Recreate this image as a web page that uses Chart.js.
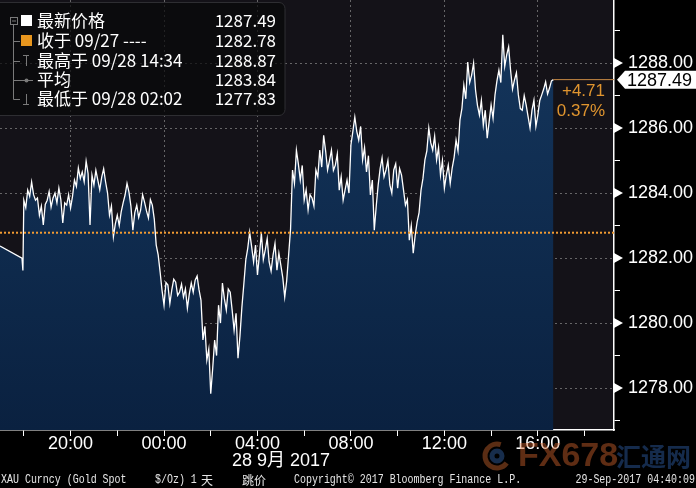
<!DOCTYPE html>
<html>
<head>
<meta charset="utf-8">
<script src="https://cdn.jsdelivr.net/npm/chart.js@4.4.1/dist/chart.umd.min.js"></script>
<style>
  html, body { margin: 0; padding: 0; background: #000; }
</style>
</head>
<body>
<canvas id="chart" width="696" height="488"></canvas>
<script>
// hours are counted from midnight 28 Sep (negative = 27 Sep)
const gapHours = [-7.02, -6.08, -6.04];
const gapPrices = [1282.37, 1282.00, 1281.62];

// quotes from 18:00 (27 Sep), one every 5 minutes
const firstHour = -6;
const stepMinutes = 5;
const prices = [
  1283.78, 1283.55, 1284.09, 1283.90, 1284.34, 1283.95, 1283.78, 1283.85, 1283.32, 1283.60,
  1283.02, 1283.65, 1283.78, 1284.05, 1283.57, 1283.85, 1284.00, 1283.70, 1284.15, 1283.80,
  1283.08, 1283.70, 1283.63, 1283.95, 1283.54, 1283.90, 1284.40, 1284.20, 1284.77, 1284.45,
  1284.65, 1284.35, 1284.98, 1284.60, 1283.02, 1284.55, 1284.25, 1284.70, 1284.40, 1284.10,
  1284.49, 1284.75, 1284.34, 1284.00, 1283.32, 1283.60, 1282.65, 1283.05, 1283.32, 1283.00,
  1283.42, 1283.70, 1283.94, 1284.30, 1284.03, 1283.60, 1282.86, 1283.40, 1283.63, 1283.25,
  1283.48, 1283.95, 1283.72, 1283.45, 1283.23, 1283.80, 1283.63, 1283.20, 1282.40, 1282.10,
  1281.57, 1281.00, 1280.55, 1281.25, 1281.17, 1280.60, 1281.02, 1281.35, 1281.26, 1280.85,
  1280.95, 1281.20, 1280.80, 1281.05, 1280.46, 1280.90, 1281.23, 1280.95, 1281.32, 1281.45,
  1281.02, 1280.70, 1279.48, 1279.90, 1278.86, 1279.20, 1277.83, 1278.60, 1279.48, 1279.00,
  1280.55, 1280.00, 1281.23, 1280.75, 1280.40, 1281.05, 1280.95, 1280.40, 1279.78, 1280.30,
  1278.92, 1279.60, 1280.49, 1281.20, 1281.94, 1282.30, 1282.80, 1282.35, 1281.88, 1282.40,
  1281.48, 1282.10, 1282.77, 1281.95, 1282.25, 1282.60, 1281.88, 1281.60, 1282.09, 1282.45,
  1281.63, 1282.15, 1281.78, 1281.40, 1280.80, 1281.30, 1282.09, 1282.90, 1284.71, 1284.30,
  1285.32, 1284.90, 1284.40, 1284.85, 1283.78, 1284.10, 1283.48, 1283.95, 1283.85, 1283.60,
  1284.71, 1284.50, 1285.32, 1284.80, 1285.78, 1285.30, 1284.71, 1285.00, 1285.32, 1284.70,
  1284.86, 1285.20, 1284.09, 1284.50, 1283.78, 1284.10, 1284.40, 1284.00, 1285.48, 1285.90,
  1286.34, 1285.90, 1285.63, 1286.05, 1285.02, 1285.40, 1284.65, 1285.15, 1283.94, 1284.40,
  1282.86, 1283.60, 1284.25, 1284.75, 1285.08, 1284.50, 1284.71, 1285.00, 1284.25, 1284.00,
  1284.71, 1284.90, 1284.15, 1284.75, 1284.55, 1284.10, 1283.63, 1283.80, 1282.55, 1283.00,
  1282.15, 1282.70, 1283.11, 1283.40, 1284.09, 1284.45, 1285.02, 1285.30, 1286.00, 1285.55,
  1285.32, 1285.75, 1285.02, 1285.40, 1284.55, 1285.00, 1284.15, 1284.55, 1284.86, 1284.30,
  1284.77, 1285.10, 1285.63, 1285.30, 1286.25, 1286.60, 1287.32, 1286.90, 1288.03, 1287.40,
  1287.63, 1288.00, 1287.17, 1286.70, 1286.40, 1286.85, 1286.09, 1286.55, 1285.69, 1286.20,
  1286.71, 1286.30, 1287.02, 1287.45, 1287.78, 1287.40, 1288.87, 1287.90, 1288.25, 1288.50,
  1287.78, 1287.20, 1287.48, 1287.70, 1287.02, 1286.60, 1286.55, 1287.00, 1286.71, 1286.35,
  1286.00, 1286.55, 1286.86, 1286.05, 1286.40, 1286.85, 1287.02, 1287.20, 1287.42, 1287.05,
  1287.23, 1287.45, 1287.49
];

const prevClose = 1282.78;
const xMin = -7.02, xMax = 19.26;
const yMin = 1276.71, yMax = 1289.94;

const legendLabels = ['最新价格', '收于 09/27 ----', '最高于 09/28 14:34', '平均', '最低于 09/28 02:02'];
const legendValues = ['1287.49', '1282.78', '1288.87', '1283.84', '1277.83'];
const dateLabel = '28 9月 2017';

const series = gapHours.map((h, i) => ({ x: h, y: gapPrices[i] }))
  .concat(prices.map((p, i) => ({ x: firstHour + i * stepMinutes / 60, y: p })));
const last = series[series.length - 1];

const FONT = '"Liberation Sans", Arial, sans-serif';
const CJK = '"Noto Sans CJK SC", sans-serif';
Chart.defaults.font.family = FONT;

function hourLabel(v) {
  const h = ((v % 24) + 24) % 24;
  return String(h).padStart(2, '0') + ':00';
}

// backgrounds + all the bloomberg furniture
const decor = {
  id: 'decor',
  beforeDraw(chart) {
    const { ctx, chartArea: a } = chart;
    ctx.save();
    ctx.fillStyle = '#000';
    ctx.fillRect(0, 0, chart.width, chart.height);
    ctx.fillStyle = '#141218';
    ctx.fillRect(a.left, a.top, a.right - a.left, a.bottom - a.top);
    ctx.restore();
  },
  afterDraw(chart) {
    const { ctx, chartArea: a } = chart;
    const ys = chart.scales.y;
    ctx.save();

    // triangles on major y ticks
    ctx.fillStyle = '#fff';
    ys.ticks.forEach(t => {
      if (Math.round(t.value) % 2 !== 0) return;
      const py = ys.getPixelForValue(t.value);
      ctx.beginPath();
      ctx.moveTo(a.right, py - 5);
      ctx.lineTo(a.right + 9, py);
      ctx.lineTo(a.right, py + 5);
      ctx.closePath();
      ctx.fill();
    });

    // last price tag
    const py = ys.getPixelForValue(last.y);
    ctx.beginPath();
    ctx.moveTo(a.right + 3, py);
    ctx.lineTo(a.right + 11, py - 9);
    ctx.lineTo(chart.width, py - 9);
    ctx.lineTo(chart.width, py + 9);
    ctx.lineTo(a.right + 11, py + 9);
    ctx.closePath();
    ctx.fill();
    ctx.fillStyle = '#000';
    ctx.font = '18px ' + FONT;
    ctx.textBaseline = 'middle';
    ctx.textAlign = 'left';
    ctx.fillText(last.y.toFixed(2), a.right + 13, py + 1);

    // change vs previous close
    const chg = last.y - prevClose;
    ctx.fillStyle = '#e0952f';
    ctx.font = '17px ' + FONT;
    ctx.textAlign = 'right';
    ctx.fillText('+' + chg.toFixed(2), a.right - 9, py + 12);
    ctx.fillText((chg / prevClose * 100).toFixed(2) + '%', a.right - 9, py + 32);

    // date under the time axis
    ctx.fillStyle = '#fff';
    ctx.font = '18px ' + FONT + ', ' + CJK;
    ctx.textAlign = 'center';
    ctx.fillText(dateLabel, 281, 461);

    // watermark
    ctx.globalAlpha = 0.45;
    ctx.lineWidth = 5;
    ctx.strokeStyle = '#c8642c';
    ctx.beginPath();
    ctx.arc(497, 456, 12, Math.PI * 0.2, Math.PI * 1.6);
    ctx.stroke();
    ctx.strokeStyle = '#3463a8';
    ctx.beginPath();
    ctx.arc(497, 456, 5, 0, Math.PI * 2);
    ctx.stroke();
    ctx.font = 'bold 34px ' + FONT;
    ctx.textAlign = 'left';
    ctx.fillStyle = '#d2642c';
    ctx.fillText('FX678', 518, 457);
    ctx.fillStyle = '#2f5fa8';
    ctx.font = 'bold 25px ' + CJK;
    ctx.fillText('汇通网', 616, 456);
    ctx.globalAlpha = 1;

    // footer line
    ctx.fillStyle = '#e6e6e6';
    ctx.font = '12px "Liberation Mono", monospace';
    ctx.textBaseline = 'middle';
    const foot = (txt, x, align) => {
      ctx.save();
      ctx.translate(x, 480);
      ctx.scale(0.83, 1);
      ctx.textAlign = align || 'left';
      ctx.fillText(txt, 0, 0);
      ctx.restore();
    };
    foot('XAU Curncy (Gold Spot', 1);
    foot('$/Oz) 1', 155);
    foot('Copyright© 2017 Bloomberg Finance L.P.', 294);
    foot('29-Sep-2017 04:40:09', 695, 'right');
    ctx.font = '12px ' + CJK;
    ctx.fillText('天', 201, 480);
    ctx.fillText('跳价', 242, 480);

    // legend panel
    ctx.fillStyle = 'rgba(8,8,10,0.72)';
    ctx.strokeStyle = '#2e2e32';
    ctx.lineWidth = 1;
    ctx.beginPath();
    ctx.roundRect(-6, 2.5, 291, 113, 6);
    ctx.fill();
    ctx.stroke();

    const rowY = [21, 41, 61, 80, 99];
    ctx.strokeStyle = '#7a7a7a';
    ctx.beginPath();
    ctx.moveTo(13.5, 25); ctx.lineTo(13.5, 99.5);
    for (let i = 1; i < rowY.length; i++) {
      ctx.moveTo(13.5, rowY[i] + 0.5); ctx.lineTo(20, rowY[i] + 0.5);
    }
    ctx.stroke();
    ctx.strokeRect(10.5, 17.5, 7, 7);
    ctx.beginPath();
    ctx.moveTo(12, 21); ctx.lineTo(16, 21);
    // high marker
    ctx.moveTo(23, 55.5); ctx.lineTo(29, 55.5);
    ctx.moveTo(26.5, 55.5); ctx.lineTo(26.5, 66);
    // average marker
    ctx.moveTo(20, 80.5); ctx.lineTo(33, 80.5);
    // low marker
    ctx.moveTo(26.5, 94); ctx.lineTo(26.5, 104.5);
    ctx.moveTo(23, 104.5); ctx.lineTo(29, 104.5);
    ctx.stroke();
    ctx.fillStyle = '#7a7a7a';
    ctx.beginPath();
    ctx.arc(26.5, 80.5, 2, 0, Math.PI * 2);
    ctx.fill();
    ctx.fillStyle = '#fff';
    ctx.fillRect(21, 15, 11, 11);
    ctx.fillStyle = '#e8961e';
    ctx.fillRect(21, 35, 11, 11);

    ctx.fillStyle = '#fff';
    ctx.font = '17px ' + CJK;
    ctx.textBaseline = 'middle';
    legendLabels.forEach((lab, i) => {
      ctx.textAlign = 'left';
      ctx.fillText(lab, 37, rowY[i]);
      ctx.textAlign = 'right';
      ctx.fillText(legendValues[i], 276, rowY[i]);
    });

    ctx.restore();
  }
};

new Chart(document.getElementById('chart'), {
  type: 'line',
  data: {
    datasets: [
      {
        data: [{ x: xMin, y: prevClose }, { x: xMax, y: prevClose }],
        borderColor: '#f29b32',
        borderWidth: 2,
        borderDash: [2, 2],
        pointRadius: 0,
        fill: false
      },
      {
        data: [{ x: last.x, y: last.y }, { x: xMax, y: last.y }],
        borderColor: '#c98a44',
        borderWidth: 1,
        pointRadius: 0,
        fill: false
      },
      {
        data: series,
        borderColor: '#ffffff',
        borderWidth: 1.3,
        pointRadius: 0,
        tension: 0,
        fill: 'start',
        backgroundColor: (c) => {
          const a = c.chart.chartArea;
          if (!a) return '#0c2646';
          const g = c.chart.ctx.createLinearGradient(0, a.top, 0, a.bottom);
          g.addColorStop(0, '#15375e');
          g.addColorStop(1, '#0a2140');
          return g;
        }
      }
    ]
  },
  options: {
    responsive: false,
    animation: false,
    layout: { padding: 0 },
    plugins: {
      legend: { display: false },
      tooltip: { enabled: false }
    },
    scales: {
      x: {
        type: 'linear',
        min: xMin,
        max: xMax,
        z: 1,
        afterFit: (s) => { s.height = 58; s.paddingLeft = 0; s.paddingRight = 0; },
        ticks: {
          stepSize: 2,
          includeBounds: false,
          autoSkip: false,
          maxRotation: 0,
          padding: -3,
          color: '#fff',
          font: { size: 18 },
          callback: (v) => (Math.abs(v) % 4 === 0 ? hourLabel(v) : '')
        },
        grid: {
          color: (c) => (c.tick && Math.abs(c.tick.value) % 4 === 0 ? 'rgba(170,170,170,0.55)' : 'rgba(0,0,0,0)'),
          tickColor: '#fff',
          tickLength: 6,
          lineWidth: 1
        },
        border: { color: '#fff', width: 1.5, dash: [2, 3] }
      },
      y: {
        type: 'linear',
        position: 'right',
        min: yMin,
        max: yMax,
        z: 1,
        afterFit: (s) => { s.width = 82; s.paddingTop = 0; s.paddingBottom = 0; },
        ticks: {
          stepSize: 1,
          includeBounds: false,
          autoSkip: false,
          padding: 8,
          color: '#fff',
          font: { size: 18 },
          callback: (v) => (Math.round(v) % 2 === 0 ? v.toFixed(2) : '')
        },
        grid: {
          color: (c) => (c.tick && Math.round(c.tick.value) % 2 === 0 ? 'rgba(170,170,170,0.55)' : 'rgba(0,0,0,0)'),
          tickColor: '#fff',
          tickLength: 6,
          lineWidth: 1
        },
        border: { color: '#fff', width: 1.5, dash: [2, 3] }
      }
    }
  },
  plugins: [decor]
});
</script>
</body>
</html>
